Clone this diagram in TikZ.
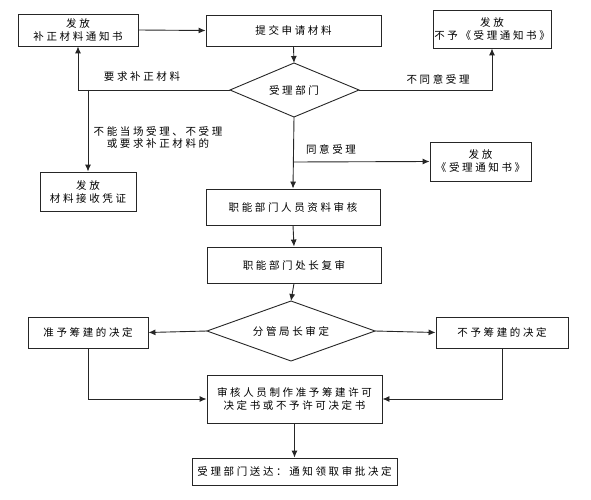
\documentclass[tikz,border=0pt]{standalone}
\usepackage{fontspec}
\setmainfont{Noto Sans CJK SC}[LetterSpace=25]
\usetikzlibrary{arrows.meta,shapes.geometric}
\tikzset{
  base/.style={draw=black!85, line width=0.9pt, inner sep=0pt, align=center,
    font=\fontsize{10.5}{13}\selectfont},
  box/.style={base, rectangle},
  dia/.style={base, diamond, aspect=2.4},
  lab/.style={inner sep=0pt, align=center, font=\fontsize{10.5}{12}\selectfont},
  conn/.style={draw=black!85, line width=0.9pt},
  arr/.style={conn, -{Latex[length=7pt,width=6pt]}}
}
\begin{document}
\begin{tikzpicture}[x=1pt,y=-1pt]
\useasboundingbox (0,0) rectangle (591,500);
% boxes
\node[box, minimum width=120pt, minimum height=32pt] (b1) at (78,30) {发放\\补正材料通知书};
\node[box, minimum width=175pt, minimum height=31pt] (b2) at (293.5,30.5) {提交申请材料};
\node[base, draw=none, minimum width=129pt, minimum height=54pt] (d1) at (294,90) {受理部门};
\draw[conn] (230,90) -- (294,63) -- (359,90) -- (294,117) -- cycle;
\coordinate (d1w) at (230,90);
\coordinate (d1e) at (359,90);
\coordinate (d1n) at (294,63);
\coordinate (d1s) at (294,117);
\node[box, minimum width=118pt, minimum height=38pt] (b3) at (492,29) {发放\\不予《受理通知书》};
\node[box, minimum width=96pt, minimum height=39pt] (b4) at (88,191.5) {发放\\材料接收凭证};
\node[box, minimum width=101pt, minimum height=39pt] (b5) at (480.5,161.5) {发放\\《受理通知书》};
\node[box, minimum width=174pt, minimum height=36pt] (b6) at (293,207) {职能部门人员资料审核};
\node[box, minimum width=174pt, minimum height=36pt] (b7) at (294,265) {职能部门处长复审};
\node[base, draw=none, minimum width=167pt, minimum height=60pt] (d2) at (291,331) {分管局长审定};
\draw[conn] (207,331) -- (291,301) -- (375,331) -- (291,361) -- cycle;
\coordinate (d2w) at (207,331);
\coordinate (d2e) at (375,331);
\coordinate (d2n) at (291,301);
\node[box, minimum width=120pt, minimum height=31pt] (b8) at (88,332.5) {准予筹建的决定};
\node[box, minimum width=132pt, minimum height=31pt] (b9) at (502,332.5) {不予筹建的决定};
\node[box, minimum width=175pt, minimum height=48pt] (b10) at (294.5,399) {审核人员制作准予筹建许可\\决定书或不予许可决定书};
\node[box, minimum width=205pt, minimum height=27pt] (b11) at (294.5,471.5) {受理部门送达：通知领取审批决定};
% labels
\node[lab] (l1) at (142,77) {要求补正材料};
\node[lab] (l2) at (438,79) {不同意受理};
\node[lab] (l3) at (158,137.5) {不能当场受理、不受理\\或要求补正材料的};
\node[lab] (l4) at (331,149) {同意受理};
% connectors
\coordinate (j1) at (88,90);
\coordinate (j2) at (294,162);
\draw[arr] (b1.east) -- (b2.west);
\draw[arr] (b2.south) -- (d1n);
\draw[arr] (d1w) -| (b1.south);
\draw[arr] (j1) -- (b4.north);
\draw[arr] (d1e) -| (b3.south);
\draw[arr] (d1s) -- (b6.north);
\draw[arr] (j2) -- (b5.west);
\draw[arr] (b6.south) -- (b7.north);
\draw[arr] (b7.south) -- (d2n);
\draw[arr] (d2w) -- (b8.east);
\draw[arr] (d2e) -- (b9.west);
\draw[arr] (b8.south) |- (b10.west);
\draw[arr] (b9.south) |- (b10.east);
\draw[arr] (b10.south) -- (b11.north);
\end{tikzpicture}
\end{document}
